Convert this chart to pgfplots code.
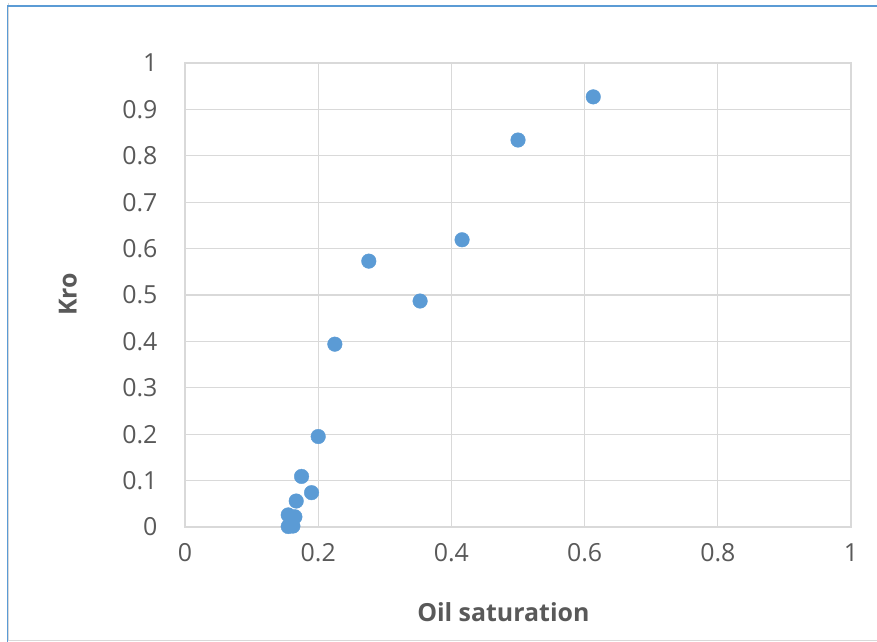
\documentclass[border=0pt]{standalone}
\usepackage{pgfplots}
\pgfplotsset{compat=1.18}
\usepackage{fontspec}
\setmainfont{Open Sans}
\definecolor{ptblue}{RGB}{91,155,213}
\definecolor{gridgray}{RGB}{217,217,217}
\definecolor{txtgray}{RGB}{89,89,89}
\definecolor{frameblue}{RGB}{91,155,213}
\begin{document}
\begin{tikzpicture}[x=1bp,y=1bp]
\path[use as bounding box] (-185,-115) rectangle (692,527);
\begin{axis}[
  at={(0,0)}, anchor=south west,
  scale only axis, width=666bp, height=464bp,
  xmin=0, xmax=1, ymin=0, ymax=1,
  xtick={0,0.2,...,1}, ytick={0,0.1,...,1},
  grid=major,
  major grid style={gridgray, line width=1.3bp},
  axis line style={gridgray, line width=1.3bp},
  tick style={draw=none},
  ticklabel style={font=\fontsize{25}{29}\selectfont, text=txtgray},
  /pgf/number format/assume math mode=true,
  xticklabel style={yshift=-13bp},
  yticklabel style={xshift=-24bp},
  xlabel={\textbf{Oil saturation}},
  ylabel={\textbf{Kro}},
  label style={font=\fontsize{25}{29}\selectfont, text=txtgray},
  xlabel style={at={(axis description cs:0.478,-0.183)}, anchor=center},
  ylabel style={at={(axis description cs:-0.176,0.501)}, anchor=center, rotate=0},
]
\addplot[only marks, mark=*, mark size=7.3bp, mark options={fill=ptblue, draw=ptblue}] coordinates {
(0.613,0.927) (0.500,0.834) (0.416,0.619) (0.276,0.573) (0.353,0.487)
(0.225,0.394) (0.200,0.195) (0.175,0.109) (0.190,0.074) (0.167,0.056)
(0.155,0.026) (0.165,0.022) (0.155,0.001) (0.162,0.002)
};
\end{axis}
\draw[gridgray, line width=1bp] (-176,524) -- (-176,-114) -- (692,-114);
\draw[frameblue, line width=1.5bp] (-177.5,-115) -- (-177.5,521) -- (692,521);
\end{tikzpicture}
\end{document}
